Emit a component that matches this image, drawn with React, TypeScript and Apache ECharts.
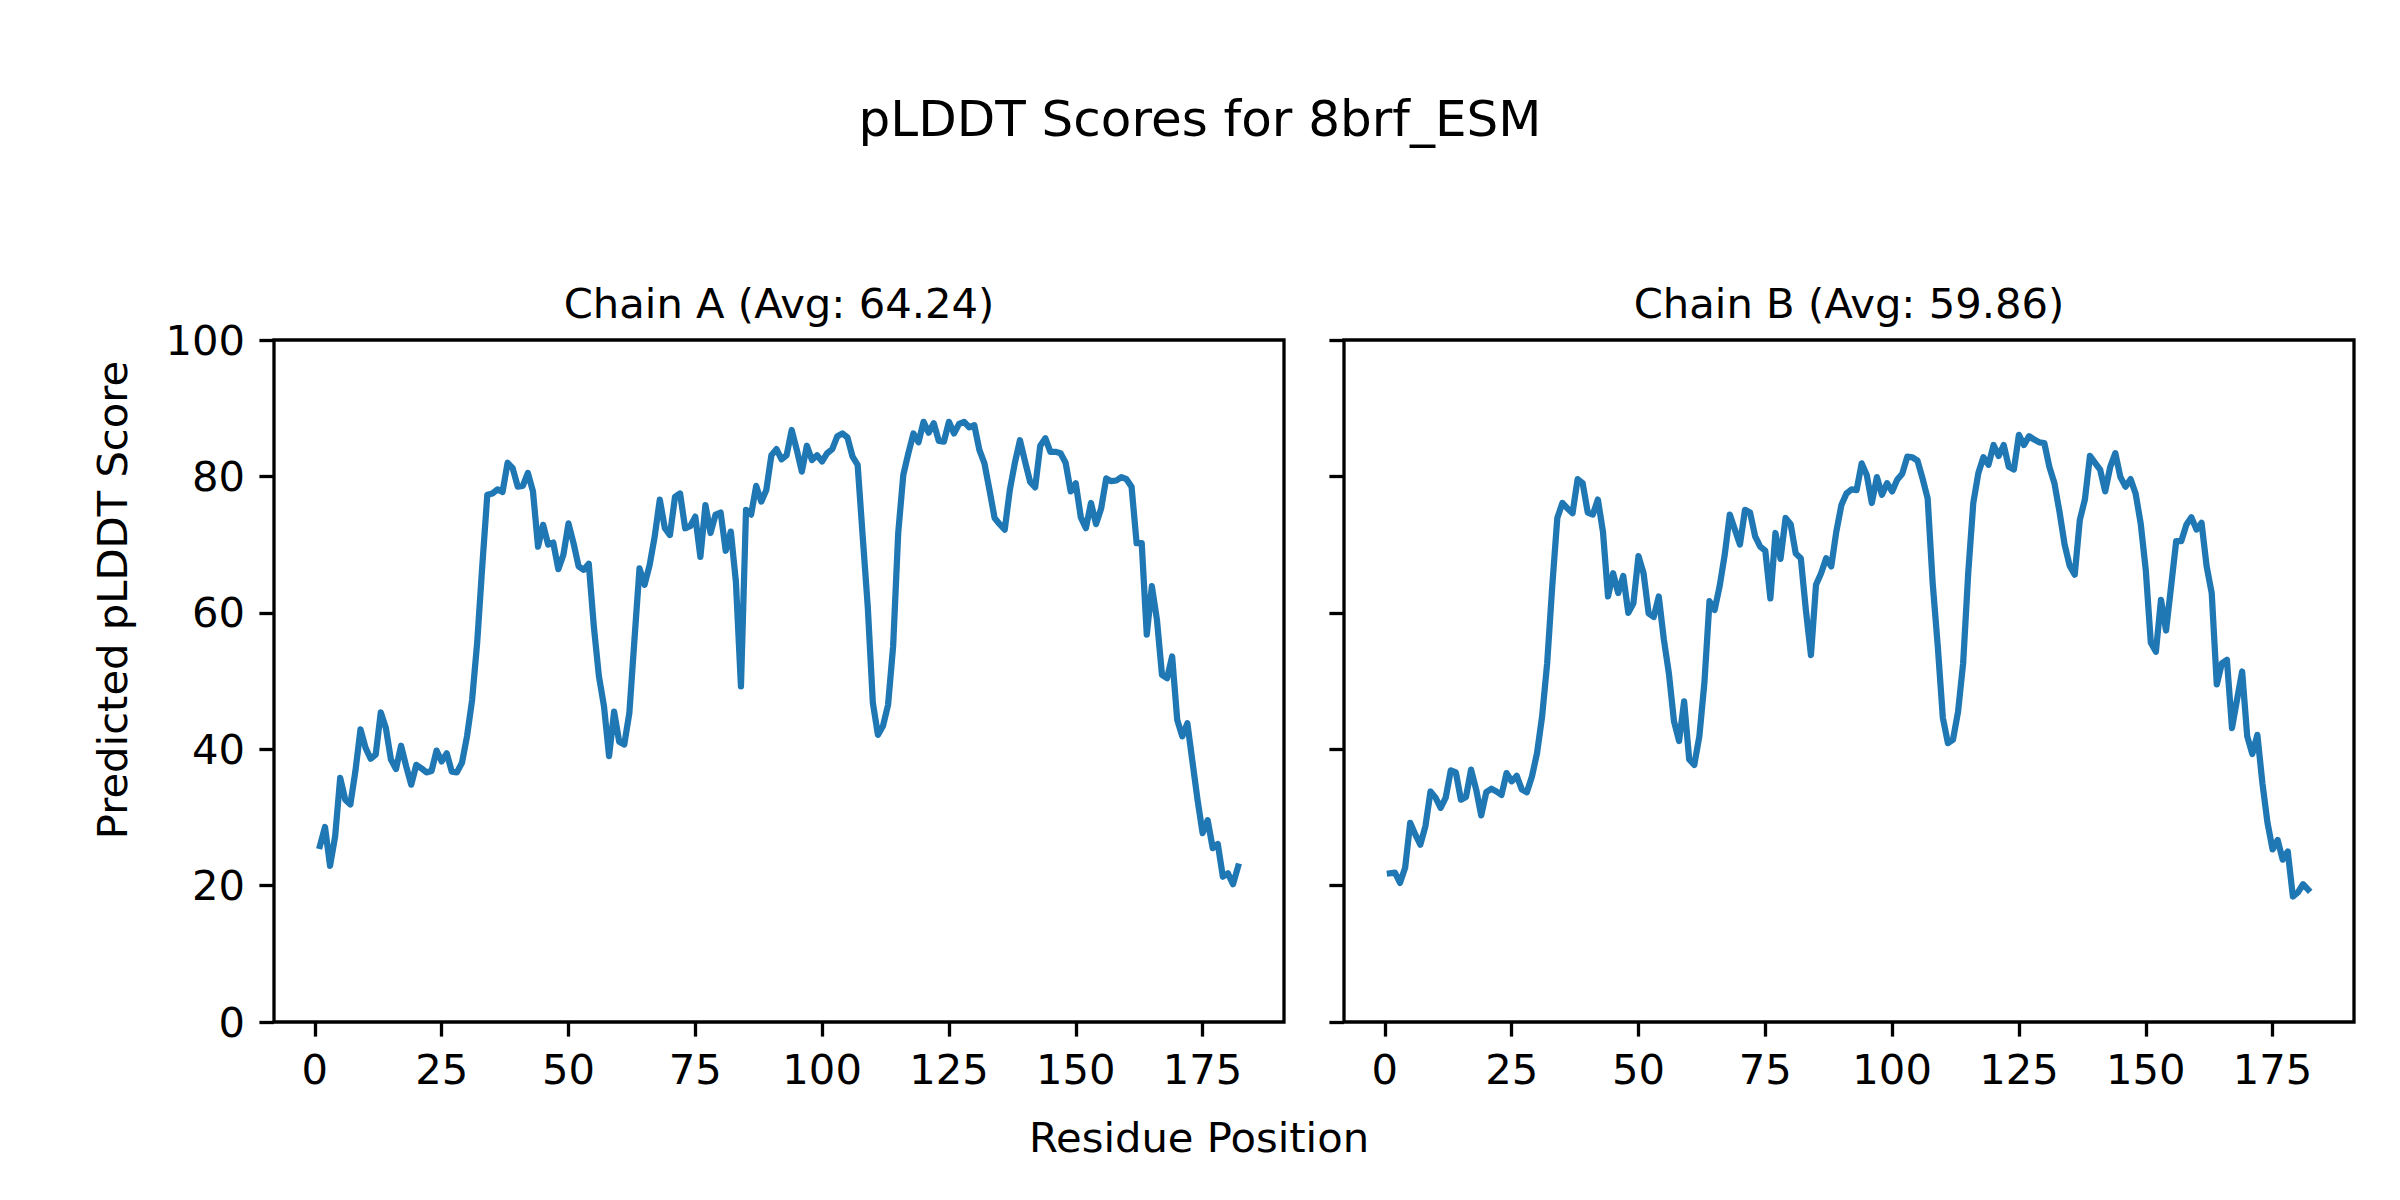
import React, { useEffect, useRef } from "react";
import * as echarts from "echarts";

const mainTitle = "pLDDT Scores for 8brf_ESM";
const subTitles = ["Chain A (Avg: 64.24)", "Chain B (Avg: 59.86)"];
const xLabel = "Residue Position";
const yLabel = "Predicted pLDDT Score";
const xTicks = [0, 25, 50, 75, 100, 125, 150, 175];
const yTicks = [0, 20, 40, 60, 80, 100];

const chainA = [
  25.8, 28.6, 22.9, 27.2, 35.8, 32.6, 31.9, 36.8, 42.9, 40.2,
  38.6, 39.2, 45.4, 43.1, 38.5, 37.1, 40.5, 37.5, 34.8, 37.7,
  37.2, 36.6, 36.8, 39.8, 38.2, 39.4, 36.7, 36.6, 38.0, 41.9,
  47.2, 55.6, 66.8, 77.3, 77.5, 78.1, 77.7, 82.0, 81.2, 78.5,
  78.6, 80.5, 77.8, 69.7, 72.9, 70.0, 70.3, 66.4, 68.5, 73.1,
  70.2, 66.8, 66.3, 67.2, 58.0, 50.7, 46.3, 39.0, 45.5, 41.1,
  40.7, 45.3, 56.0, 66.5, 64.1, 67.0, 71.2, 76.6, 72.4, 71.4,
  77.0, 77.5, 72.4, 72.7, 74.1, 68.2, 75.8, 71.7, 74.4, 74.7,
  69.1, 71.9, 64.6, 49.2, 75.1, 74.4, 78.6, 76.3, 78.0, 83.1,
  84.0, 82.5, 83.1, 86.8, 83.9, 80.7, 84.5, 82.4, 83.1, 82.2,
  83.4, 84.0, 85.9, 86.3, 85.7, 82.9, 81.7, 71.2, 60.9, 46.8,
  42.1, 43.4, 46.5, 55.1, 71.7, 80.2, 83.4, 86.3, 85.0, 88.0,
  86.4, 87.8, 85.2, 85.1, 88.0, 86.3, 87.7, 88.0, 87.2, 87.5,
  83.9, 81.9, 78.0, 73.9, 73.0, 72.2, 78.0, 82.0, 85.3, 82.2,
  79.2, 78.4, 84.5, 85.6, 83.6, 83.6, 83.4, 82.0, 77.8, 79.0,
  74.0, 72.4, 76.1, 73.0, 75.3, 79.7, 79.3, 79.4, 79.9, 79.6,
  78.5, 70.2, 70.2, 56.8, 63.9, 59.0, 50.9, 50.4, 53.6, 44.3,
  41.9, 43.8, 38.2, 32.6, 27.7, 29.6, 25.5, 26.1, 21.3, 21.8,
  20.2, 22.8,
];

const chainB = [
  21.8, 21.9, 20.4, 22.6, 29.2, 27.5, 26.0, 28.7, 33.8, 32.9,
  31.4, 32.9, 36.9, 36.6, 32.6, 33.0, 37.0, 34.1, 30.3, 33.7,
  34.2, 33.8, 33.3, 36.5, 35.3, 36.1, 34.1, 33.7, 36.0, 39.4,
  44.8, 52.6, 63.9, 73.9, 76.1, 75.3, 74.6, 79.6, 79.0, 74.7,
  74.4, 76.6, 71.9, 62.4, 65.8, 62.9, 65.4, 60.0, 61.4, 68.3,
  65.8, 59.9, 59.4, 62.4, 56.1, 51.1, 44.1, 41.2, 47.0, 38.5,
  37.7, 41.9, 49.8, 61.7, 60.4, 63.9, 68.5, 74.4, 72.2, 70.0,
  75.1, 74.7, 71.2, 69.7, 69.1, 62.1, 71.7, 67.9, 73.9, 73.0,
  68.7, 68.0, 60.4, 53.8, 64.1, 65.8, 68.0, 66.8, 71.9, 75.8,
  77.5, 78.1, 78.0, 81.9, 80.2, 76.1, 79.9, 77.3, 79.0, 77.8,
  79.5, 80.4, 82.9, 82.8, 82.3, 79.7, 76.8, 64.3, 55.1, 44.6,
  40.9, 41.4, 45.5, 52.6, 65.8, 76.1, 80.5, 82.8, 81.7, 84.6,
  83.0, 84.6, 81.4, 81.0, 86.1, 84.6, 85.9, 85.4, 85.0, 84.9,
  81.4, 79.0, 74.8, 70.0, 66.9, 65.6, 73.6, 76.6, 83.0, 82.0,
  81.0, 77.8, 81.4, 83.4, 79.9, 78.5, 79.6, 77.5, 73.1, 66.3,
  55.6, 54.3, 61.9, 57.4, 63.9, 70.5, 70.5, 72.9, 74.0, 72.2,
  73.2, 66.8, 62.9, 49.5, 52.6, 53.1, 43.1, 47.3, 51.4, 41.9,
  39.3, 42.1, 35.0, 29.2, 25.3, 26.7, 23.8, 25.0, 18.4, 19.0,
  20.2, 19.4,
];

const FONT = '"DejaVu Sans", "Liberation Sans", sans-serif';

export default function App() {
  const ref = useRef<HTMLDivElement>(null);

  useEffect(() => {
    if (!ref.current) return;
    const chart = echarts.init(ref.current, null, { renderer: "svg" });

    const grids = [
      { left: 274, top: 340, width: 1010, height: 682 },
      { left: 1344, top: 340, width: 1010, height: 682 },
    ];
    const n = chainA.length;
    const span = n - 1;
    const xMin = 1 - span * 0.05;
    const xMax = n + span * 0.05;

    const tickLine = { color: "#000", width: 3.3 };
    const labelStyle = { fontSize: 41.7, fontFamily: FONT, color: "#000" };

    const xAxes = [0, 1].map((g) => ({
      gridIndex: g,
      type: "value",
      min: xMin,
      max: xMax,
      axisLine: { show: false, onZero: false },
      splitLine: { show: false },
      axisTick: { show: true, customValues: xTicks, length: 14.6, lineStyle: tickLine },
      axisLabel: { show: true, customValues: xTicks, margin: 26, ...labelStyle },
    }));

    const yAxes = [0, 1].map((g) => ({
      gridIndex: g,
      type: "value",
      min: 0,
      max: 100,
      interval: 20,
      axisLine: { show: false, onZero: false },
      splitLine: { show: false },
      axisTick: { show: true, customValues: yTicks, length: 14.6, lineStyle: tickLine },
      axisLabel: { show: g === 0, customValues: yTicks, margin: 29, ...labelStyle },
    }));

    const mkSeries = (vals: number[], idx: number) => ({
      type: "line",
      xAxisIndex: idx,
      yAxisIndex: idx,
      data: vals.map((v, i) => [i + 1, v]),
      showSymbol: false,
      symbol: "none",
      silent: true,
      lineStyle: { color: "#1f77b4", width: 6.25, cap: "square", join: "round" },
      z: 3,
    });

    const txt = (text: string, x: number, y: number, size: number, rotation = 0) => ({
      type: "text",
      x,
      y,
      rotation,
      silent: true,
      style: {
        text,
        fontSize: size,
        fontFamily: FONT,
        fill: "#000",
        align: "center",
        verticalAlign: "middle",
        textAlign: "center",
        textVerticalAlign: "middle",
      },
    });

    chart.setOption({
      animation: false,
      backgroundColor: "#fff",
      grid: grids.map((g) => ({
        ...g,
        show: true,
        borderColor: "#000",
        borderWidth: 3.3,
        backgroundColor: "rgba(0,0,0,0)",
        containLabel: false,
      })),
      xAxis: xAxes,
      yAxis: yAxes,
      series: [mkSeries(chainA, 0), mkSeries(chainB, 1)],
      graphic: [
        txt(mainTitle, 1200, 119, 50),
        txt(subTitles[0], 779, 303, 41.7),
        txt(subTitles[1], 1849, 303, 41.7),
        txt(xLabel, 1199, 1137, 41.7),
        txt(yLabel, 112, 600, 41.7, Math.PI / 2),
      ],
    });

    return () => chart.dispose();
  }, []);

  return (
    <div
      ref={ref}
      style={{ position: "fixed", left: 0, top: 0, width: 2400, height: 1200, background: "#fff" }}
    />
  );
}
